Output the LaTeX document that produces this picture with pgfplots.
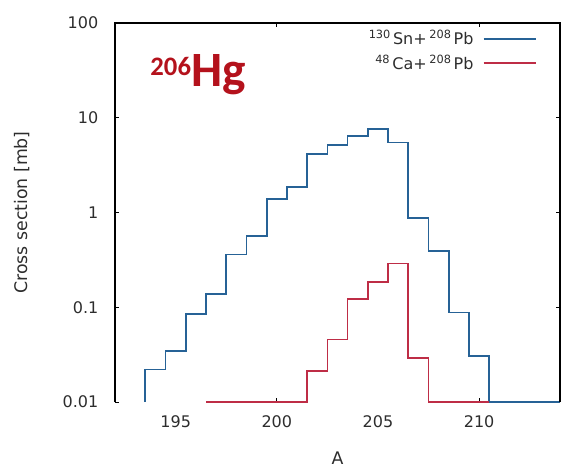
\documentclass[border=0pt]{standalone}
\usepackage{pgfplots}
\pgfplotsset{compat=1.18}
\usepackage{fontspec}
\setmainfont{DejaVu Sans}
\newfontfamily\hgfont{Carlito}
\definecolor{snblue}{RGB}{38,98,150}
\definecolor{cared}{RGB}{190,45,70}
\definecolor{hgred}{RGB}{180,18,28}
\definecolor{txt}{RGB}{45,45,45}
\newcommand{\isosup}[1]{\raisebox{4.5pt}{\fontsize{8.5}{9}\selectfont #1}\,}
\begin{document}
\begin{tikzpicture}
\begin{axis}[
  scale only axis,
  width=333.75pt, height=284.25pt,
  xmin=192, xmax=214,
  ymode=log, ymin=0.01, ymax=100,
  log basis y=10,
  clip=false,
  axis line style={draw=none},
  xtick={200,210},
  extra x ticks={195,205},
  extra x tick style={major tick length=0pt},
  ytick={0.01,0.1,1,10,100},
  yticklabels={0.01,0.1,1,10,100},
  tick align=inside,
  major tick length=3pt, minor tick length=2pt,
  tick style={black, line width=0.6pt},
  xtick pos=both, ytick pos=both,
  ticklabel style={font=\fontsize{12}{14}\selectfont, text=txt},
  /pgf/number format/assume math mode=true,
  xticklabel style={yshift=-7pt},
  yticklabel style={xshift=-9pt},
  xlabel={A}, ylabel={Cross section [mb]},
  label style={font=\fontsize{13}{15}\selectfont, text=txt},
  xlabel style={yshift=-11pt},
  ylabel style={yshift=18pt},
  legend style={draw=none, fill=none, at={(axis description cs:0.948,0.988)}, anchor=north east,
    font=\fontsize{12}{14}\selectfont, text=txt, row sep=2pt, inner sep=0pt},
  legend plot pos=right,
  legend cell align=right,
  legend image code/.code={\path (0pt,0pt); \draw[#1, line width=1.3pt] (5pt,0pt) -- (44pt,0pt);},
]
\addplot[const plot mark left, snblue, line width=1.3pt] coordinates {
(193.5,0.01) (193.5,0.022) (194.5,0.0346) (195.5,0.0845) (196.5,0.138)
(197.5,0.361) (198.5,0.565) (199.5,1.38) (200.5,1.87) (201.5,4.15)
(202.5,5.17) (203.5,6.44) (204.5,7.6) (205.5,5.47) (206.5,0.88)
(207.5,0.395) (208.5,0.088) (209.5,0.0304) (210.5,0.01) (214,0.01)
};
\addlegendentry{\isosup{130}Sn+\,\isosup{208}Pb}
\addplot[const plot mark left, cared, line width=1.3pt] coordinates {
(196.5,0.01) (201.5,0.0213) (202.5,0.0457) (203.5,0.122) (204.5,0.185)
(205.5,0.29) (206.5,0.029) (207.5,0.01) (210.5,0.01)
};
\addlegendentry{\isosup{48}Ca+\,\isosup{208}Pb}
\draw[black, line width=1pt] (rel axis cs:0,0) -- (rel axis cs:0,1) -- (rel axis cs:1,1) -- (rel axis cs:1,0);
\node[anchor=base west, inner sep=0pt, text=hgred] at (axis cs:193.74,21.5)
  {\hgfont\bfseries\raisebox{8pt}{\fontsize{20}{22}\selectfont 206}\fontsize{37}{40}\selectfont Hg};
\end{axis}
\path[use as bounding box] ([xshift=-86.25pt,yshift=-50.25pt]current axis.south west) rectangle ([xshift=12.75pt,yshift=17.25pt]current axis.north east);
\end{tikzpicture}
\end{document}
